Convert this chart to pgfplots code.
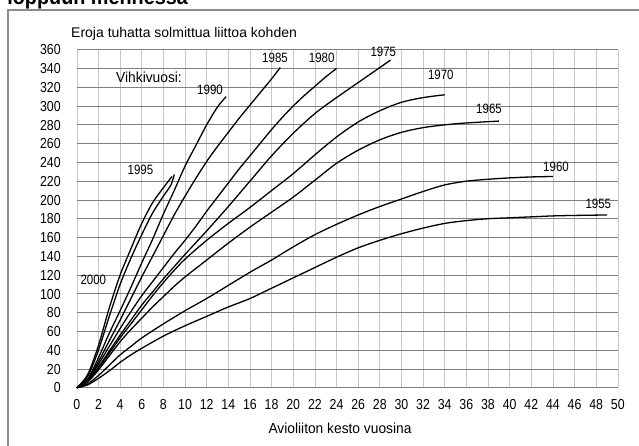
\documentclass[border=0pt]{standalone}
\usepackage{pgfplots}
\pgfplotsset{compat=1.18}
\usepackage{fontspec}
\setmainfont{Liberation Sans}
\newfontfamily\cond{Liberation Sans}[FakeStretch=0.85]
\newfontfamily\semi{Liberation Sans}[FakeStretch=0.95]
\newfontfamily\bigbold{Liberation Sans Bold}[FakeStretch=0.9]
\pgfplotsset{curve/.style={draw=black, line width=1.3pt, mark=none, smooth, tension=0.5}}
\begin{document}
\begin{tikzpicture}[x=1pt,y=1pt]
\useasboundingbox (0,0) rectangle (639,445);
% frame
\draw[line width=1.3pt, black!45] (8,-10) -- (8,445-10) -- (650,445-10);
\node[anchor=base east, inner sep=0pt, font=\bigbold\fontsize{22}{22}\selectfont] at (188,445-5) {loppuun mennessä};
\begin{axis}[
  at={(71,61)}, anchor=south west,
  scale only axis, width=541pt, height=338pt,
  xmin=0, xmax=50, ymin=0, ymax=360,
  xtick={0,2,...,50}, ytick={0,20,...,360},
  axis line style={draw=none}, major tick style={draw=none},
  grid=major,
  major x grid style={black!22, line width=0.6pt},
  major y grid style={black!50, line width=0.7pt},
  /pgf/number format/assume math mode=true,
  ticklabel style={font=\cond\fontsize{14.5}{14.5}\selectfont, inner sep=0pt, text height=10.4pt, text depth=0pt},
  xticklabel style={anchor=north, yshift=-11pt},
  yticklabel style={anchor=east, xshift=-16pt},
  clip=false,
]
% 1955
\addplot[curve] coordinates {(0,0)(1,3)(2,10)(3,18)(4,27)(5,35)(6,42)(8,55)(10,66)(12,76)(14,86)(16,95)(18,106)(20,117)(22,128)(24,139)(26,149)(28,157)(30,164)(32,170)(34,175)(36,178)(38,180)(40,181)(42,182)(44,183)(46,183.5)(49,184)};
% 1960
\addplot[curve] coordinates {(0,0)(1,4)(2,13)(3,24)(4,35)(5,44)(6,53)(8,68)(10,82)(12,95)(14,109)(16,123)(18,136)(20,150)(22,163)(24,174)(26,184)(28,193)(30,201)(32,209)(34,216)(36,220)(38,222)(40,223.5)(42,224.5)(44,225)};
% 1965
\addplot[curve] coordinates {(0,0)(1,6)(2,19)(3,34)(4,49)(5,62)(6,74)(7,86)(8,97)(9,108)(10,118)(11,127)(12,136)(14,154)(16,171)(18,187)(20,203)(22,221)(24,239)(26,253)(28,264)(30,272)(32,277)(34,280)(36,282)(39,284)};
% 1970
\addplot[curve] coordinates {(0,0)(1,7)(2,21)(3,37)(4,53)(5,68)(6,83)(7,98)(8,112)(9,125)(10,137)(12,157)(14,175)(16,192)(18,210)(20,228)(22,248)(24,267)(26,283)(28,295)(30,304)(32,309)(34,312)};
% 1975
\addplot[curve] coordinates {(0,0)(1,7)(2,22)(3,39)(4,56)(5,72)(6,88)(7,102)(8,116)(9,129)(10,142)(12,167)(14,193)(16,220)(18,247)(20,271)(22,292)(24,309)(26,325)(28,341)(29,349)};
% 1980
\addplot[curve] coordinates {(0,0)(1,8)(2,25)(3,44)(4,63)(5,81)(6,98)(7,113)(8,128)(9,143)(10,157)(11,172)(12,188)(13,203)(14,218)(15,233)(16,247)(17,261)(18,275)(19,288)(20,300)(21,311)(22,321)(23,331)(24,340)};
% 1985
\addplot[curve] coordinates {(0,0)(1,9)(2,28)(3,50)(4,72)(5,95)(6,118)(7,140)(8,162)(9,184)(10,204)(11,223)(12,241)(13,257)(14,272)(15,287)(16,301)(17,315)(18,329)(18.8,341)};
% 1990
\addplot[curve] coordinates {(0,0)(1,9)(2,32)(3,58)(4,82)(5,107)(6,133)(7,158)(8,185)(9,210)(10,236)(11,258)(12,280)(13,299)(13.8,310)};
% 1995
\addplot[curve] coordinates {(0,0)(1,12)(2,40)(3,76)(4,110)(5,138)(6,163)(7,186)(8,204)(8.7,216)(9,227)};
% 2000
\addplot[curve] coordinates {(0,0)(1,14)(2,45)(3,85)(4,120)(5,148)(6,175)(7,197)(8,213)(8.8,225)};
\end{axis}
\begin{scope}[every node/.style={inner sep=0pt, font=\cond\fontsize{13.5}{13.5}\selectfont}]
\node at (93.3,445-280) {2000};
\node at (140.5,445-170) {1995};
\node at (210,445-90) {1990};
\node at (275,445-57.7) {1985};
\node at (321.7,445-58) {1980};
\node at (383.3,445-52) {1975};
\node at (440.8,445-75) {1970};
\node at (489,445-109) {1965};
\node at (556,445-166.7) {1960};
\node at (598.3,445-204) {1955};
\end{scope}
\node[inner sep=0pt, font=\semi\fontsize{14.5}{14.5}\selectfont] at (149,445-77.5) {Vihkivuosi:};
\node[anchor=base west, inner sep=0pt, font=\fontsize{14}{14}\selectfont] at (71,445-37.5) {Eroja tuhatta solmittua liittoa kohden};
\node[inner sep=0pt, font=\semi\fontsize{14.5}{14.5}\selectfont] at (340,445-428) {Avioliiton kesto vuosina};
\end{tikzpicture}
\end{document}
